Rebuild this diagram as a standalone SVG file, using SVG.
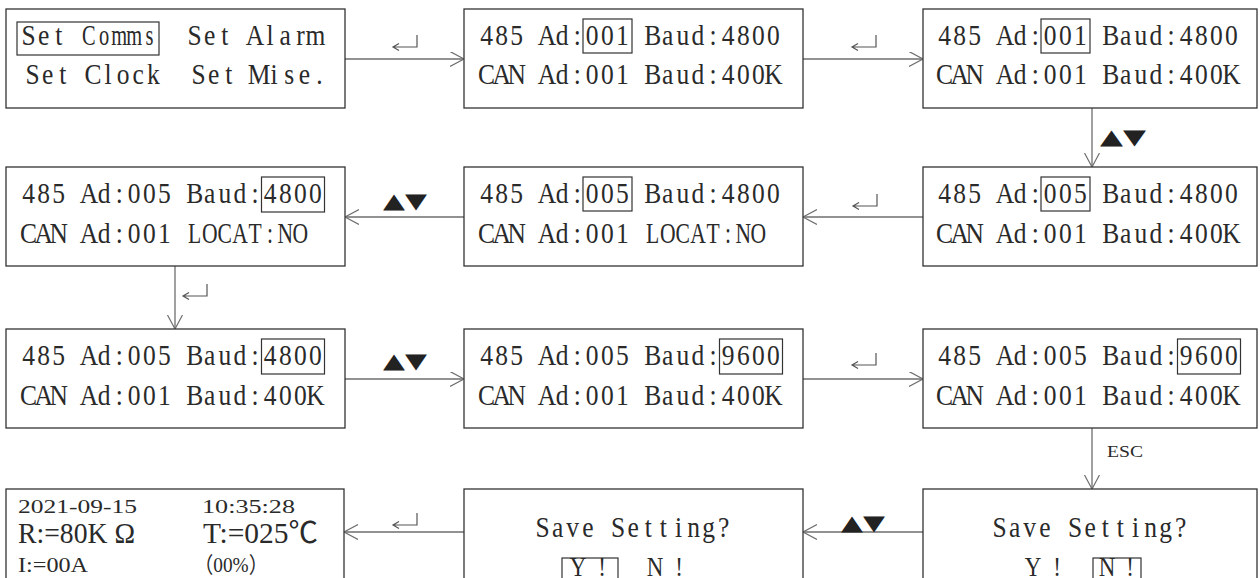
<svg xmlns="http://www.w3.org/2000/svg" width="1260" height="578" viewBox="0 0 1260 578">
<defs>
<style>
.box{fill:#fff;stroke:#333;stroke-width:1.3}
.hl{fill:none;stroke:#333;stroke-width:1.2}
.t{font-family:"Liberation Serif","Noto Sans CJK SC",serif;font-size:30px;fill:#2a2a2a;text-anchor:middle}
.yn{font-size:27px}
.s{font-family:"Liberation Serif","Noto Sans CJK SC",serif;fill:#2a2a2a}
.conn{stroke:#6e6e6e;stroke-width:1.3;fill:none}
.ent{stroke:#555;stroke-width:1.2;fill:none}
.tri{font-family:"DejaVu Sans",sans-serif;font-size:21px;fill:#222}
</style>
<marker id="ah" markerUnits="userSpaceOnUse" markerWidth="16" markerHeight="17" refX="14" refY="7.5" orient="auto">
<path d="M0,0 L14,7.5 L0,15" fill="none" stroke="#6e6e6e" stroke-width="1.2"/>
</marker>
</defs>
<rect width="1260" height="578" fill="#fff"/>

<g id="connectors">
<path class="conn" d="M345,59 H464" marker-end="url(#ah)"/>
<path class="conn" d="M803,59 H923" marker-end="url(#ah)"/>
<path class="conn" d="M1092,108 V167" marker-end="url(#ah)"/>
<path class="conn" d="M923,217 H803" marker-end="url(#ah)"/>
<path class="conn" d="M464,217 H345" marker-end="url(#ah)"/>
<path class="conn" d="M175,266 V329" marker-end="url(#ah)"/>
<path class="conn" d="M345,379 H464" marker-end="url(#ah)"/>
<path class="conn" d="M803,379 H923" marker-end="url(#ah)"/>
<path class="conn" d="M1092,428 V489" marker-end="url(#ah)"/>
<path class="conn" d="M923,532 H803" marker-end="url(#ah)"/>
<path class="conn" d="M464,532 H344" marker-end="url(#ah)"/>
<path class="ent" d="M417,35 V47 H393 M399,43.5 L393,47 L399,50.5"/>
<path class="ent" d="M876,35 V47 H852 M858,43.5 L852,47 L858,50.5"/>
<path class="ent" d="M877,194 V206 H853 M859,202.5 L853,206 L859,209.5"/>
<path class="ent" d="M207,284 V296 H183 M189,292.5 L183,296 L189,299.5"/>
<path class="ent" d="M876,353 V365 H852 M858,361.5 L852,365 L858,368.5"/>
<path class="ent" d="M417,513 V525 H393 M399,521.5 L393,525 L399,528.5"/>
<text class="tri" x="1100" y="144" textLength="46" lengthAdjust="spacingAndGlyphs">▲▼</text>
<text class="tri" x="383" y="208" textLength="44" lengthAdjust="spacingAndGlyphs">▲▼</text>
<text class="tri" x="383" y="368" textLength="44" lengthAdjust="spacingAndGlyphs">▲▼</text>
<text class="tri" x="841" y="530" textLength="44" lengthAdjust="spacingAndGlyphs">▲▼</text>
<text class="s" x="1107" y="457" font-size="17" textLength="36" lengthAdjust="spacingAndGlyphs">ESC</text>
</g>

<g id="n1">
<rect class="box" x="6" y="9" width="339" height="99"/>
<rect class="hl" x="17" y="22" width="142" height="33"/>
<g transform="translate(21,0) scale(0.85,1)">
<text class="t" y="45" x="8.9 26.6 44.4">Set</text>
<text class="t" y="45" x="204.3 222.1 239.8 257.6 275.4 293.1 310.9 328.7 346.4">Set Alarm</text>
</g>
<g transform="translate(21,0) scale(0.68,1)"><text class="t" y="45" x="99.9 122.1 144.3 166.5 188.8">Comms</text></g>
<g transform="translate(25,0) scale(0.85,1)"><text class="t" xml:space="preserve" y="84" x="8.9 26.6 44.4 62.2 79.9 97.7 115.5 133.2 151 168.8 186.5 204.3 222.1 239.8 257.6 275.4 293.1 310.9 328.7 346.4">Set Clock  Set Mise.</text></g>
</g>

<g id="n2">
<rect class="box" x="464" y="9" width="339" height="99"/>
<rect class="hl" x="583" y="19" width="49" height="34"/>
<g transform="translate(479,0) scale(0.85,1)">
<text class="t" y="45" x="8.9 26.6 44.4 62.2 79.9 97.7 115.5 133.2 151 168.8 186.5 204.3 222.1 239.8 257.6 275.4 293.1 310.9 328.7 346.4">485 Ad:001 Baud:4800</text>
<text class="t" y="84" x="8.9 26.6 44.4 62.2 79.9 97.7 115.5 133.2 151 168.8 186.5 204.3 222.1 239.8 257.6 275.4 293.1 310.9 328.7 346.4">CAN Ad:001 Baud:400K</text>
</g>
</g>

<g id="n3">
<rect class="box" x="923" y="9" width="334" height="99"/>
<rect class="hl" x="1041" y="19" width="49" height="34"/>
<g transform="translate(937,0) scale(0.85,1)">
<text class="t" y="45" x="8.9 26.6 44.4 62.2 79.9 97.7 115.5 133.2 151 168.8 186.5 204.3 222.1 239.8 257.6 275.4 293.1 310.9 328.7 346.4">485 Ad:001 Baud:4800</text>
<text class="t" y="84" x="8.9 26.6 44.4 62.2 79.9 97.7 115.5 133.2 151 168.8 186.5 204.3 222.1 239.8 257.6 275.4 293.1 310.9 328.7 346.4">CAN Ad:001 Baud:400K</text>
</g>
</g>

<g id="n4">
<rect class="box" x="923" y="167" width="334" height="99"/>
<rect class="hl" x="1041" y="177" width="49" height="34"/>
<g transform="translate(937,0) scale(0.85,1)">
<text class="t" y="203" x="8.9 26.6 44.4 62.2 79.9 97.7 115.5 133.2 151 168.8 186.5 204.3 222.1 239.8 257.6 275.4 293.1 310.9 328.7 346.4">485 Ad:005 Baud:4800</text>
<text class="t" y="243" x="8.9 26.6 44.4 62.2 79.9 97.7 115.5 133.2 151 168.8 186.5 204.3 222.1 239.8 257.6 275.4 293.1 310.9 328.7 346.4">CAN Ad:001 Baud:400K</text>
</g>
</g>

<g id="n5">
<rect class="box" x="464" y="167" width="339" height="99"/>
<rect class="hl" x="583" y="177" width="49" height="34"/>
<g transform="translate(479,0) scale(0.85,1)">
<text class="t" y="203" x="8.9 26.6 44.4 62.2 79.9 97.7 115.5 133.2 151 168.8 186.5 204.3 222.1 239.8 257.6 275.4 293.1 310.9 328.7 346.4">485 Ad:005 Baud:4800</text>
<text class="t" y="243" x="8.9 26.6 44.4 62.2 79.9 97.7 115.5 133.2 151 168.8">CAN Ad:001</text>
</g>
<g transform="translate(479,0) scale(0.72,1)"><text class="t" y="243" x="241.2 262.2 283.1 304.1 325.1 346 367 388">LOCAT:NO</text></g>
</g>

<g id="n6">
<rect class="box" x="6" y="167" width="339" height="99"/>
<rect class="hl" x="261.5" y="177" width="63" height="35"/>
<g transform="translate(21,0) scale(0.85,1)">
<text class="t" y="203" x="8.9 26.6 44.4 62.2 79.9 97.7 115.5 133.2 151 168.8 186.5 204.3 222.1 239.8 257.6 275.4 293.1 310.9 328.7 346.4">485 Ad:005 Baud:4800</text>
<text class="t" y="243" x="8.9 26.6 44.4 62.2 79.9 97.7 115.5 133.2 151 168.8">CAN Ad:001</text>
</g>
<g transform="translate(21,0) scale(0.72,1)"><text class="t" y="243" x="241.2 262.2 283.1 304.1 325.1 346 367 388">LOCAT:NO</text></g>
</g>

<g id="n7">
<rect class="box" x="6" y="329" width="339" height="99"/>
<rect class="hl" x="261.5" y="339" width="63" height="35"/>
<g transform="translate(21,0) scale(0.85,1)">
<text class="t" y="365" x="8.9 26.6 44.4 62.2 79.9 97.7 115.5 133.2 151 168.8 186.5 204.3 222.1 239.8 257.6 275.4 293.1 310.9 328.7 346.4">485 Ad:005 Baud:4800</text>
<text class="t" y="405" x="8.9 26.6 44.4 62.2 79.9 97.7 115.5 133.2 151 168.8 186.5 204.3 222.1 239.8 257.6 275.4 293.1 310.9 328.7 346.4">CAN Ad:001 Baud:400K</text>
</g>
</g>

<g id="n8">
<rect class="box" x="464" y="329" width="339" height="99"/>
<rect class="hl" x="719.5" y="339" width="63" height="35"/>
<g transform="translate(479,0) scale(0.85,1)">
<text class="t" y="365" x="8.9 26.6 44.4 62.2 79.9 97.7 115.5 133.2 151 168.8 186.5 204.3 222.1 239.8 257.6 275.4 293.1 310.9 328.7 346.4">485 Ad:005 Baud:9600</text>
<text class="t" y="405" x="8.9 26.6 44.4 62.2 79.9 97.7 115.5 133.2 151 168.8 186.5 204.3 222.1 239.8 257.6 275.4 293.1 310.9 328.7 346.4">CAN Ad:001 Baud:400K</text>
</g>
</g>

<g id="n9">
<rect class="box" x="923" y="329" width="334" height="99"/>
<rect class="hl" x="1177.5" y="339" width="63" height="35"/>
<g transform="translate(937,0) scale(0.85,1)">
<text class="t" y="365" x="8.9 26.6 44.4 62.2 79.9 97.7 115.5 133.2 151 168.8 186.5 204.3 222.1 239.8 257.6 275.4 293.1 310.9 328.7 346.4">485 Ad:005 Baud:9600</text>
<text class="t" y="405" x="8.9 26.6 44.4 62.2 79.9 97.7 115.5 133.2 151 168.8 186.5 204.3 222.1 239.8 257.6 275.4 293.1 310.9 328.7 346.4">CAN Ad:001 Baud:400K</text>
</g>
</g>

<g id="n10">
<rect class="box" x="6" y="489" width="338" height="111"/>
<text class="s" x="18" y="513" font-size="19" textLength="119" lengthAdjust="spacingAndGlyphs">2021-09-15</text>
<text class="s" x="202" y="513" font-size="19" textLength="93" lengthAdjust="spacingAndGlyphs">10:35:28</text>
<text class="s" x="18" y="543" font-size="29" textLength="117" lengthAdjust="spacingAndGlyphs">R:=80K Ω</text>
<text class="s" x="203" y="543" font-size="29" textLength="115" lengthAdjust="spacingAndGlyphs">T:=025℃</text>
<text class="s" x="18" y="572" font-size="21" textLength="70" lengthAdjust="spacingAndGlyphs">I:=00A</text>
<text class="s" x="194" y="572" font-size="22" textLength="74" lengthAdjust="spacingAndGlyphs">（00%）</text>
</g>

<g id="n11">
<rect class="box" x="464" y="489" width="339" height="111"/>
<rect class="hl" x="562" y="558" width="56" height="36"/>
<g transform="translate(535,0) scale(0.85,1)">
<text class="t" y="537" x="8.9 26.6 44.4 62.2 79.9 97.7 115.5 133.2 151 168.8 186.5 204.3 222.1">Save Setting?</text>
<text class="t yn" y="576" x="50.6 64.7 78.8">Y !</text>
<text class="t yn" y="576" x="141.2 155.3 169.4">N !</text>
</g>
</g>

<g id="n12">
<rect class="box" x="923" y="489" width="334" height="111"/>
<rect class="hl" x="1093" y="558" width="48" height="36"/>
<g transform="translate(992,0) scale(0.85,1)">
<text class="t" y="537" x="8.9 26.6 44.4 62.2 79.9 97.7 115.5 133.2 151 168.8 186.5 204.3 222.1">Save Setting?</text>
<text class="t yn" y="576" x="48.2 62.4 76.5">Y !</text>
<text class="t yn" y="576" x="135.3 148.8 162.4">N !</text>
</g>
</g>
</svg>
